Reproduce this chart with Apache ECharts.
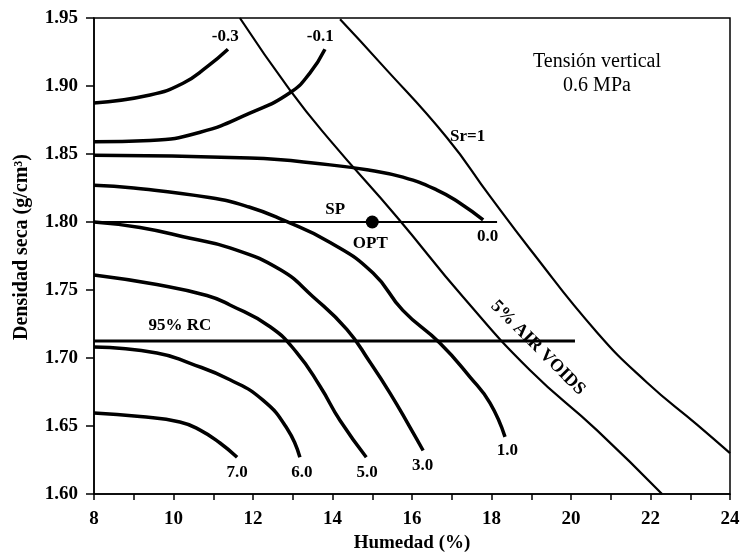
<!DOCTYPE html>
<html>
<head>
<meta charset="utf-8">
<script src="https://cdn.jsdelivr.net/npm/echarts@6/dist/echarts.min.js"></script>
<style>
  html, body { margin: 0; padding: 0; background: #fff; }
  #chart { width: 740px; height: 552px; }
</style>
</head>
<body>
<div id="chart"></div>
<script>
// curvas de succión (MPa): [humedad %, densidad seca g/cm3]
const sucM03 = [[8, 1.8875], [9.41, 1.8934], [10.24, 1.902], [10.84, 1.914], [11.37, 1.927]]
const sucM01 = [[8, 1.859], [9.41, 1.860], [10.67, 1.866], [11.92, 1.880], [12.93, 1.895], [13.43, 1.9095], [13.81, 1.927]]
const suc00 = [[8, 1.849], [11.92, 1.847], [13.94, 1.842], [14.94, 1.838], [15.77, 1.833], [16.63, 1.8235], [17.2, 1.814], [17.79, 1.8015]]
const suc10 = [[8, 1.827], [9, 1.825], [10.9, 1.818], [11.9, 1.811], [12.75, 1.8015], [13.94, 1.785], [15.02, 1.7625], [15.77, 1.735], [16.7, 1.711], [17.46, 1.686], [17.96, 1.667], [18.34, 1.642]]
const suc30 = [[8, 1.80], [9.16, 1.796], [10.42, 1.788], [11.42, 1.781], [12.68, 1.765], [13.51, 1.745], [14.36, 1.721], [14.94, 1.697], [15.45, 1.674], [15.95, 1.649], [16.28, 1.632]]
const suc50 = [[8, 1.761], [9.58, 1.754], [10.84, 1.746], [11.42, 1.739], [12.43, 1.723], [13.1, 1.704], [13.69, 1.679], [14.19, 1.654], [14.85, 1.627]]
const suc60 = [[8, 1.708], [9.58, 1.7037], [10.42, 1.696], [11.42, 1.684], [12.25, 1.669], [12.86, 1.648], [13.18, 1.627]]
const suc70 = [[8, 1.6596], [9.16, 1.657], [10.16, 1.653], [10.67, 1.647], [11.17, 1.6375], [11.6, 1.627]]

// líneas de saturación
const sr1 = [[14.19, 1.949], [15.2, 1.917], [16.88, 1.862], [17.96, 1.819], [18.97, 1.780], [20.65, 1.719], [21.91, 1.682], [23.17, 1.651], [24, 1.630]]
const airVoids5 = [[11.67, 1.95], [12.93, 1.897], [13.94, 1.860], [15.62, 1.8037], [17.28, 1.745], [18.97, 1.691], [20.65, 1.647], [22.29, 1.60]]

// SP, 95% RC y óptimo
const spLine = [[8, 1.80], [18.14, 1.80]]
const rcLine = [[8, 1.7125], [20.1, 1.7125]]
const optPoint = [[15, 1.80]]

// textos sobre el gráfico
const curveLabels = [
  { text: '-0.3', pos: [11.3, 1.936] },
  { text: '-0.1', pos: [13.69, 1.936] },
  { text: '0.0', pos: [17.9, 1.789] },
  { text: '1.0', pos: [18.4, 1.632] },
  { text: '3.0', pos: [16.27, 1.621] },
  { text: '5.0', pos: [14.87, 1.616] },
  { text: '6.0', pos: [13.23, 1.616] },
  { text: '7.0', pos: [11.6, 1.616] },
  { text: 'SP', pos: [14.07, 1.809] },
  { text: 'OPT', pos: [14.95, 1.784] },
  { text: '95% RC', pos: [10.16, 1.7236] },
  { text: 'Sr=1', pos: [17.4, 1.863] }
]
const airLabel = { text: '5% AIR VOIDS', pos: [19.17, 1.7074] }

const serif = 'Liberation Serif, Times New Roman, serif'

const chart = echarts.init(document.getElementById('chart'))

const lineSeries = (data, width) => ({
  type: 'line',
  data,
  smooth: 0.5,
  showSymbol: false,
  silent: true,
  lineStyle: { color: '#000', width }
})

const labelSeries = (items, extra) => ({
  type: 'scatter',
  data: items.map(d => ({ value: d.pos, name: d.text })),
  symbolSize: 0,
  silent: true,
  itemStyle: { opacity: 1 },
  label: Object.assign({
    show: true, position: 'inside',
    formatter: p => p.name,
    fontFamily: serif, fontSize: 17, fontWeight: 'bold', color: '#000'
  }, extra)
})

const option = {
  animation: false,
  backgroundColor: '#fff',
  grid: {
    left: 94, right: 10, top: 18, bottom: 58,
    outerBoundsMode: 'none',
    show: true, borderColor: '#000', borderWidth: 1.5, backgroundColor: 'transparent'
  },
  xAxis: {
    type: 'value',
    min: 8, max: 24, interval: 2,
    name: 'Humedad (%)',
    nameLocation: 'middle',
    nameGap: 40,
    nameTextStyle: { fontFamily: serif, fontSize: 19, fontWeight: 'bold', color: '#000' },
    axisLine: { show: true, onZero: false, lineStyle: { color: '#000', width: 1.5 } },
    axisTick: { show: true, length: 6, lineStyle: { color: '#000', width: 1.5 } },
    minorTick: { show: true, splitNumber: 2, length: 6, lineStyle: { color: '#000', width: 1.5 } },
    axisLabel: { fontFamily: serif, fontSize: 19, fontWeight: 'bold', color: '#000', margin: 16 },
    splitLine: { show: false }
  },
  yAxis: {
    type: 'value',
    min: 1.60, max: 1.95, interval: 0.05,
    name: 'Densidad seca (g/cm³)',
    nameLocation: 'middle',
    nameGap: 62,
    nameTextStyle: {
      fontFamily: serif, fontSize: 20, fontWeight: 'bold', color: '#000',
      padding: [0, 0, 0, 18]
    },
    axisLine: { show: true, onZero: false, lineStyle: { color: '#000', width: 1.5 } },
    axisTick: { show: true, length: 8, lineStyle: { color: '#000', width: 1.5 } },
    axisLabel: {
      fontFamily: serif, fontSize: 19, fontWeight: 'bold', color: '#000', margin: 16,
      formatter: v => v.toFixed(2)
    },
    splitLine: { show: false }
  },
  graphic: [
    {
      type: 'text', x: 597, y: 50,
      style: {
        text: 'Tensión vertical\n0.6 MPa', fontFamily: serif, fontSize: 20,
        fill: '#000', align: 'center', verticalAlign: 'top', lineHeight: 24
      }
    }
  ],
  series: [
    lineSeries(sucM03, 3.5),
    lineSeries(sucM01, 3.5),
    lineSeries(suc00, 3.5),
    lineSeries(suc10, 3.5),
    lineSeries(suc30, 3.5),
    lineSeries(suc50, 3.5),
    lineSeries(suc60, 3.5),
    lineSeries(suc70, 3.5),
    lineSeries(sr1, 2.2),
    lineSeries(airVoids5, 2.2),
    lineSeries(spLine, 1.8),
    lineSeries(rcLine, 3),
    {
      type: 'scatter',
      data: optPoint,
      symbol: 'circle',
      symbolSize: 13,
      itemStyle: { color: '#000', opacity: 1 },
      silent: true
    },
    labelSeries(curveLabels, {}),
    labelSeries([airLabel], { rotate: -45, fontSize: 18, backgroundColor: '#fff', padding: [0, 2] })
  ]
}

chart.setOption(option)
</script>
</body>
</html>
